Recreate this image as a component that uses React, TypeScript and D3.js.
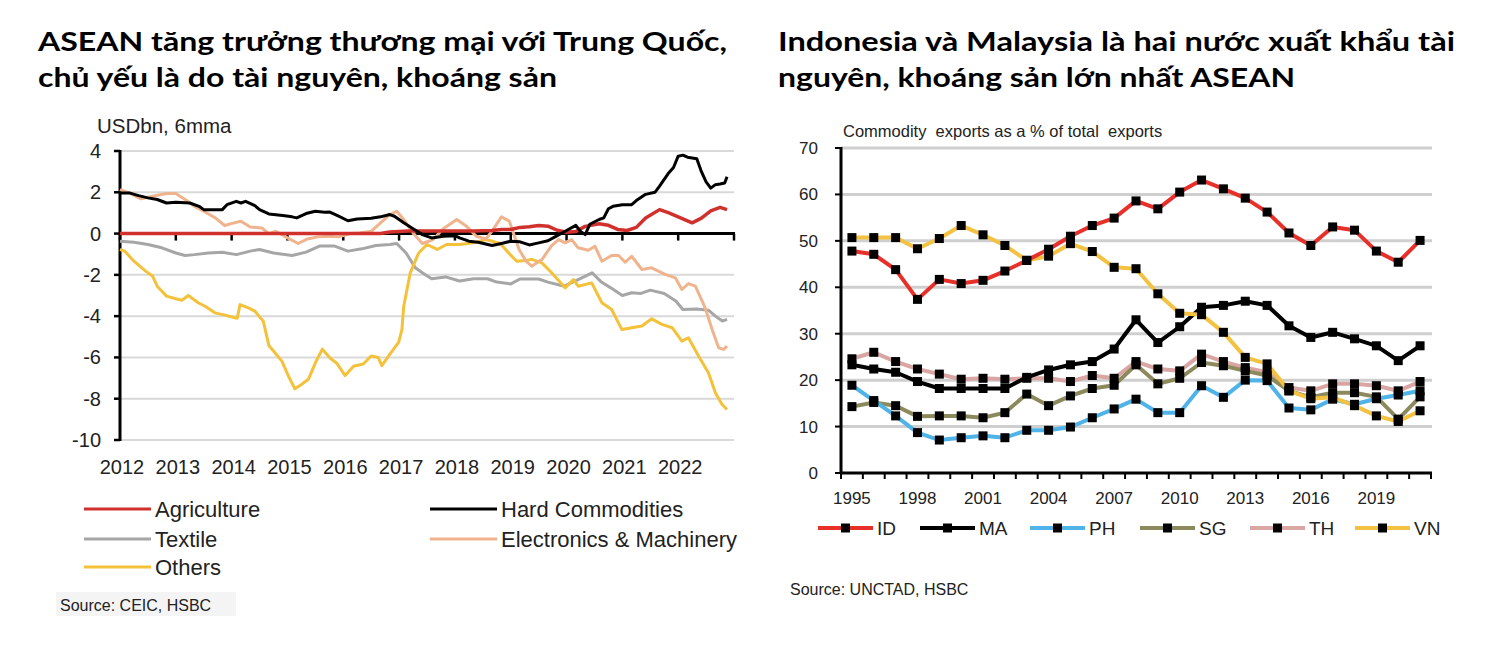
import React from "react";
import * as d3 from "d3";

// ---------- Left chart data (month index since Jan 2012, USDbn 6mma) ----------
const leftYearLabels = ["2012","2013","2014","2015","2016","2017","2018","2019","2020","2021","2022"];
const leftYTicks = [4, 2, 0, -2, -4, -6, -8, -10];

const agriculture: [number, number][] = [
  [0,0],[56,0],[58,0.08],[62,0.12],[66,0.12],[70,0.13],[76,0.13],[80,0.15],[82,0.2],[84,0.2],[86,0.3],[88,0.33],[90,0.39],[92,0.36],[94,0.16],[96,0.06],[98,0.1],[100,0.35],[103,0.48],[105,0.4],[107,0.2],[109,0.15],[111,0.3],[113,0.75],[116,1.16],[118,1.0],[120,0.81],[123,0.52],[125,0.75],[127,1.1],[129,1.27],[130.5,1.16]
];
const hardCommodities: [number, number][] = [
  [0,1.97],[2,1.97],[4,1.84],[6,1.73],[8,1.65],[10,1.48],[12,1.52],[15,1.48],[17,1.32],[18,1.16],[20,1.16],[22,1.16],[23,1.4],[25,1.56],[26,1.48],[27,1.56],[29,1.35],[30,1.16],[32,0.95],[35,0.87],[37,0.81],[38,0.76],[40,0.97],[42,1.08],[44,1.03],[45,1.05],[47,0.84],[49,0.62],[51,0.71],[54,0.74],[56,0.81],[58,0.92],[59,0.84],[61,0.52],[63,0.23],[65,-0.05],[67,-0.21],[69.5,-0.13],[72,-0.1],[73,-0.21],[75,-0.37],[77,-0.42],[80,-0.58],[82,-0.48],[84,-0.37],[86,-0.4],[88,-0.55],[90,-0.45],[92,-0.35],[94,-0.1],[96,0.15],[98,0.4],[99,0.1],[100,-0.05],[101,0.45],[103,0.68],[104,0.76],[105,1.2],[106,1.32],[108,1.4],[110,1.4],[111,1.6],[113,1.9],[115,2.0],[116,2.3],[118,2.95],[119,3.2],[120,3.75],[121,3.8],[122,3.7],[124,3.62],[125,3.0],[126,2.5],[127,2.2],[128,2.37],[129,2.4],[130,2.45],[130.5,2.75]
];
const textile: [number, number][] = [
  [0,-0.37],[3,-0.42],[6,-0.53],[9,-0.69],[12,-0.94],[14,-1.06],[16,-1.02],[19,-0.94],[22,-0.9],[25,-1.02],[28,-0.85],[30,-0.77],[33,-0.94],[37,-1.06],[40,-0.9],[43,-0.6],[46,-0.6],[49,-0.85],[52,-0.74],[55,-0.58],[58,-0.53],[59.5,-0.48],[61.5,-0.94],[63.5,-1.66],[65,-1.9],[67,-2.19],[70,-2.1],[73,-2.3],[76,-2.19],[79,-2.19],[81,-2.35],[84,-2.44],[86,-2.2],[88,-2.2],[90,-2.2],[92,-2.35],[95.5,-2.55],[98.5,-2.23],[101.5,-1.9],[103.5,-2.35],[105.5,-2.63],[108,-3.0],[110,-2.87],[112,-2.9],[114,-2.74],[117,-2.9],[119.5,-3.27],[121,-3.68],[124,-3.65],[126.5,-3.71],[128,-4.0],[129.5,-4.24],[130.5,-4.16]
];
const electronics: [number, number][] = [
  [0,2.13],[2,1.97],[4.5,1.68],[7,1.81],[10,1.94],[12,1.94],[14,1.65],[16,1.32],[18,1.08],[20.5,0.76],[22.5,0.39],[24.5,0.52],[26,0.6],[28,0.32],[30.5,0.27],[32,0],[33.5,0.11],[36,-0.21],[38.3,-0.48],[40.3,-0.26],[42.5,-0.16],[45,-0.13],[47,-0.16],[49.5,0],[51.5,0.03],[54,0.11],[56,0.52],[58,0.92],[59.5,1.08],[61,0.68],[63,0.03],[65,-0.48],[67.3,-0.29],[69.5,0.23],[72.4,0.68],[74.5,0.35],[76.6,-0.13],[78.7,-0.26],[80.2,0.19],[82,0.81],[83.7,0.6],[85.8,-0.77],[87.3,-1.34],[88.5,-1.58],[90.7,-1.26],[92.8,-0.58],[94.3,-0.29],[95.7,-0.45],[97.1,-0.29],[98.5,-0.69],[100.7,-0.81],[102.1,-0.61],[103.6,-1.34],[105.7,-1.06],[107.2,-1.06],[108.6,-1.39],[110,-1.1],[112.2,-1.74],[114.3,-1.66],[117.2,-1.98],[119.4,-2.15],[120.8,-2.71],[122.2,-2.42],[123.7,-2.55],[125.8,-3.6],[127.3,-4.65],[128.7,-5.53],[129.8,-5.61],[130.5,-5.45]
];
const others: [number, number][] = [
  [0,-0.77],[1,-0.85],[3,-1.34],[5.5,-1.82],[7,-2.06],[8,-2.55],[10,-3.03],[12,-3.16],[13.3,-3.23],[14.7,-3.0],[16.8,-3.35],[18.3,-3.52],[20.4,-3.84],[22.6,-3.95],[24.7,-4.08],[25.2,-4.1],[25.8,-3.44],[27.6,-3.6],[29,-3.76],[30.8,-4.24],[32,-5.42],[33.3,-5.77],[34.8,-6.18],[36.2,-6.9],[37.6,-7.52],[39,-7.31],[40.5,-7.06],[42,-6.26],[43.5,-5.6],[45.2,-6.04],[46.6,-6.28],[48.4,-6.88],[50.2,-6.43],[52.3,-6.32],[54,-5.93],[55.5,-6.0],[56.3,-6.4],[58.1,-5.82],[59.9,-5.27],[60.6,-4.67],[61,-3.52],[62.4,-1.9],[64.2,-0.94],[66,-0.53],[68.2,-0.77],[70.2,-0.53],[73,-0.53],[76,-0.45],[78.7,-0.29],[81.7,-0.48],[83.9,-1.02],[85.3,-1.34],[87.3,-1.3],[88.5,-1.25],[90.7,-1.42],[92.8,-1.9],[95.7,-2.63],[97.5,-2.23],[98.5,-2.55],[101.4,-2.39],[103.6,-3.35],[105.7,-3.68],[107.9,-4.65],[110,-4.56],[112.2,-4.48],[114.3,-4.13],[116.5,-4.4],[118.7,-4.56],[120.8,-5.21],[122.2,-5.05],[124.4,-5.94],[126.5,-6.74],[128,-7.71],[129.4,-8.27],[130.5,-8.52]
];

const leftSeries = [
  { name: "Agriculture", color: "#d0312d", data: agriculture },
  { name: "Hard Commodities", color: "#000000", data: hardCommodities },
  { name: "Textile", color: "#a6a6a6", data: textile },
  { name: "Electronics & Machinery", color: "#efb48e", data: electronics },
  { name: "Others", color: "#f4c13a", data: others },
];
const leftDrawOrder = ["Textile", "Others", "Electronics & Machinery", "Agriculture", "Hard Commodities"];

// ---------- Right chart data (commodity exports, % of total exports) ----------
const years = d3.range(1995, 2022).map(String);
const yearLabels = ["1995","1998","2001","2004","2007","2010","2013","2016","2019"];
const rightYTicks = [0, 10, 20, 30, 40, 50, 60, 70];
const ID = [47.8,47.1,43.8,37.4,41.7,40.8,41.5,43.5,45.8,48.2,51,53.3,54.9,58.6,56.9,60.5,63.1,61.2,59.2,56.2,51.7,49,53,52.3,47.8,45.4,50.1];
const MA = [23.3,22.4,21.7,19.7,18.2,18.2,18.2,18.2,20.6,22.2,23.3,24.0,26.7,33,28.1,31.5,35.7,36.1,37,36.1,31.7,29.2,30.3,28.9,27.4,24.2,27.4];
const PH = [18.9,15.6,12.3,8.7,7.1,7.6,8,7.6,9.2,9.2,9.9,11.9,13.8,15.9,13,13,18.8,16.3,20,19.9,14,13.6,15.9,14.8,16,16.8,17.7];
const SG = [14.3,15.2,14.5,12.2,12.3,12.3,11.9,13,17,14.5,16.6,18.2,18.9,23.3,19.2,20.4,23.8,23.1,22,21,17.7,16.3,17.3,17.3,16.4,11.6,16.4];
const TH = [24.6,26,24,22.4,21.3,20.2,20.4,20.2,20.4,20.4,19.7,21,20.4,24,22.4,22,25.6,24,22.7,21.7,18.4,17.7,19.2,19.2,18.8,17.7,19.7];
const VN = [50.7,50.7,50.7,48.3,50.5,53.3,51.3,49,45.8,46.7,49.4,47.7,44.3,44,38.6,34.4,34.1,30.3,24.9,23.5,17.7,16,16.3,14.5,12.3,11.1,13.4];

const rightSeries = [
  { name: "ID", color: "#e8302a", values: ID },
  { name: "MA", color: "#000000", values: MA },
  { name: "PH", color: "#4fb3e8", values: PH },
  { name: "SG", color: "#8c8a5c", values: SG },
  { name: "TH", color: "#d9a6a4", values: TH },
  { name: "VN", color: "#f4c242", values: VN },
];
const rightDrawOrder = ["TH", "SG", "PH", "MA", "VN", "ID"];

const FONT = "'Liberation Sans', Arial, sans-serif";
const TITLE_FONT = "Lato, 'Open Sans', sans-serif";

function Title({ x, y, text, width }: { x: number; y: number; text: string; width: number }) {
  return (
    <text x={x} y={y} fontFamily={TITLE_FONT} fontWeight={700} fontSize={27.5} fill="#000"
      textLength={width} lengthAdjust="spacingAndGlyphs">{text}</text>
  );
}

function LeftChart() {
  const x = d3.scaleLinear().domain([0, 132]).range([120, 734]);
  const y = d3.scaleLinear().domain([-10, 4]).range([440, 151]);
  const line = d3.line<[number, number]>().x(d => x(d[0])).y(d => y(d[1]));
  const grid = leftYTicks.filter(t => t !== 0);
  return (
    <g>
      <Title x={38} y={51} width={689} text="ASEAN tăng trưởng thương mại với Trung Quốc," />
      <Title x={38} y={87} width={519} text="chủ yếu là do tài nguyên, khoáng sản" />
      <text x={97} y={133} fontFamily={FONT} fontSize={20.5} fill="#222">USDbn, 6mma</text>
      {grid.map(t => (
        <line key={t} x1={120} x2={734} y1={y(t)} y2={y(t)} stroke="#d9d9d9" strokeWidth={2} />
      ))}
      {leftYTicks.map(t => (
        <g key={"yt" + t}>
          <line x1={114} x2={120} y1={y(t)} y2={y(t)} stroke="#000" strokeWidth={2.5} />
          <text x={101} y={y(t) + 7} textAnchor="end" fontFamily={FONT} fontSize={20} fill="#222">{t}</text>
        </g>
      ))}
      <line x1={120} x2={120} y1={y(4) - 1} y2={y(-10) + 1} stroke="#000" strokeWidth={3} />
      <line x1={120} x2={735} y1={y(0)} y2={y(0)} stroke="#000" strokeWidth={3} />
      {d3.range(0, 12).map(i => (
        <line key={"xt" + i} x1={x(i * 12)} x2={x(i * 12)} y1={y(0)} y2={y(0) + 7} stroke="#000" strokeWidth={2.5} />
      ))}
      {leftYearLabels.map((lab, i) => (
        <text key={lab} x={x(i * 12) + 2} y={474} textAnchor="middle" fontFamily={FONT} fontSize={20} fill="#222">{lab}</text>
      ))}
      {leftDrawOrder.map(n => {
        const s = leftSeries.find(d => d.name === n)!;
        return <path key={n} d={line(s.data) || ""} fill="none" stroke={s.color} strokeWidth={n === "Agriculture" ? 3.5 : 3} strokeLinejoin="round" />;
      })}
      {[
        { name: "Agriculture", lx: 84, ly: 509 },
        { name: "Hard Commodities", lx: 430, ly: 509 },
        { name: "Textile", lx: 84, ly: 539 },
        { name: "Electronics & Machinery", lx: 430, ly: 539 },
        { name: "Others", lx: 84, ly: 567 },
      ].map(it => {
        const s = leftSeries.find(d => d.name === it.name)!;
        return (
          <g key={"lg" + it.name}>
            <line x1={it.lx} x2={it.lx + 67} y1={it.ly} y2={it.ly} stroke={s.color} strokeWidth={3} />
            <text x={it.lx + 71} y={it.ly + 8} fontFamily={FONT} fontSize={22} fill="#222">{it.name}</text>
          </g>
        );
      })}
      <rect x={56} y={592} width={180} height={24} fill="#f4f4f4" />
      <text x={60} y={611} fontFamily={FONT} fontSize={16} fill="#222">Source: CEIC, HSBC</text>
    </g>
  );
}

function RightChart() {
  const x = d3.scaleBand<string>().domain(years).range([841, 1431]);
  const y = d3.scaleLinear().domain([0, 70]).range([473, 148]);
  const cx = (yr: string) => (x(yr) as number) + x.bandwidth() / 2;
  const line = d3.line<number>().x((_, i) => cx(years[i])).y(d => y(d));
  const bw = x.bandwidth();
  const legendX = [818, 920, 1030, 1140, 1250, 1355];
  return (
    <g>
      <Title x={778} y={51} width={677} text="Indonesia và Malaysia là hai nước xuất khẩu tài" />
      <Title x={778} y={87} width={517} text="nguyên, khoáng sản lớn nhất ASEAN" />
      <text x={843} y={137} fontFamily={FONT} fontSize={16.5} fill="#222" style={{ whiteSpace: "pre" }}>{"Commodity  exports as a % of total  exports"}</text>
      {rightYTicks.filter(t => t > 0).map(t => (
        <line key={t} x1={841} x2={1432} y1={y(t)} y2={y(t)} stroke="#cfcfcf" strokeWidth={3} />
      ))}
      {rightYTicks.map(t => (
        <g key={"ry" + t}>
          <line x1={835} x2={841} y1={y(t)} y2={y(t)} stroke="#000" strokeWidth={2} />
          <text x={818} y={y(t) + 6} textAnchor="end" fontFamily={FONT} fontSize={17} fill="#222">{t}</text>
        </g>
      ))}
      <line x1={841} x2={841} y1={y(70) - 1} y2={y(0)} stroke="#000" strokeWidth={3} />
      <line x1={840} x2={1432} y1={y(0)} y2={y(0)} stroke="#000" strokeWidth={3} />
      {d3.range(0, years.length + 1).map(i => (
        <line key={"rx" + i} x1={841 + i * bw} x2={841 + i * bw} y1={y(0)} y2={y(0) + 6} stroke="#000" strokeWidth={2} />
      ))}
      {yearLabels.map(l => (
        <text key={l} x={cx(l)} y={504} textAnchor="middle" fontFamily={FONT} fontSize={17} fill="#222">{l}</text>
      ))}
      {rightDrawOrder.map(n => {
        const s = rightSeries.find(d => d.name === n)!;
        return <path key={n} d={line(s.values) || ""} fill="none" stroke={s.color} strokeWidth={4} strokeLinejoin="round" />;
      })}
      {rightSeries.map(s => s.values.map((v, i) => (
        <rect key={s.name + i} x={cx(years[i]) - 4.5} y={y(v) - 4.5} width={9} height={9} fill="#000" />
      )))}
      {rightSeries.map((s, i) => (
        <g key={"rl" + s.name}>
          <line x1={legendX[i]} x2={legendX[i] + 55} y1={528} y2={528} stroke={s.color} strokeWidth={4} />
          <rect x={legendX[i] + 23} y={523.5} width={9} height={9} fill="#000" />
          <text x={legendX[i] + 59} y={535} fontFamily={FONT} fontSize={19} fill="#222">{s.name}</text>
        </g>
      ))}
      <text x={790} y={595} fontFamily={FONT} fontSize={16} fill="#222">Source: UNCTAD, HSBC</text>
    </g>
  );
}

export default function App() {
  return (
    <div style={{ position: "absolute", left: 0, top: 0 }}>
      <svg width={1500} height={649} viewBox="0 0 1500 649" style={{ display: "block", background: "#fff" }}>
        <rect width={1500} height={649} fill="#fff" />
        <LeftChart />
        <RightChart />
      </svg>
    </div>
  );
}
